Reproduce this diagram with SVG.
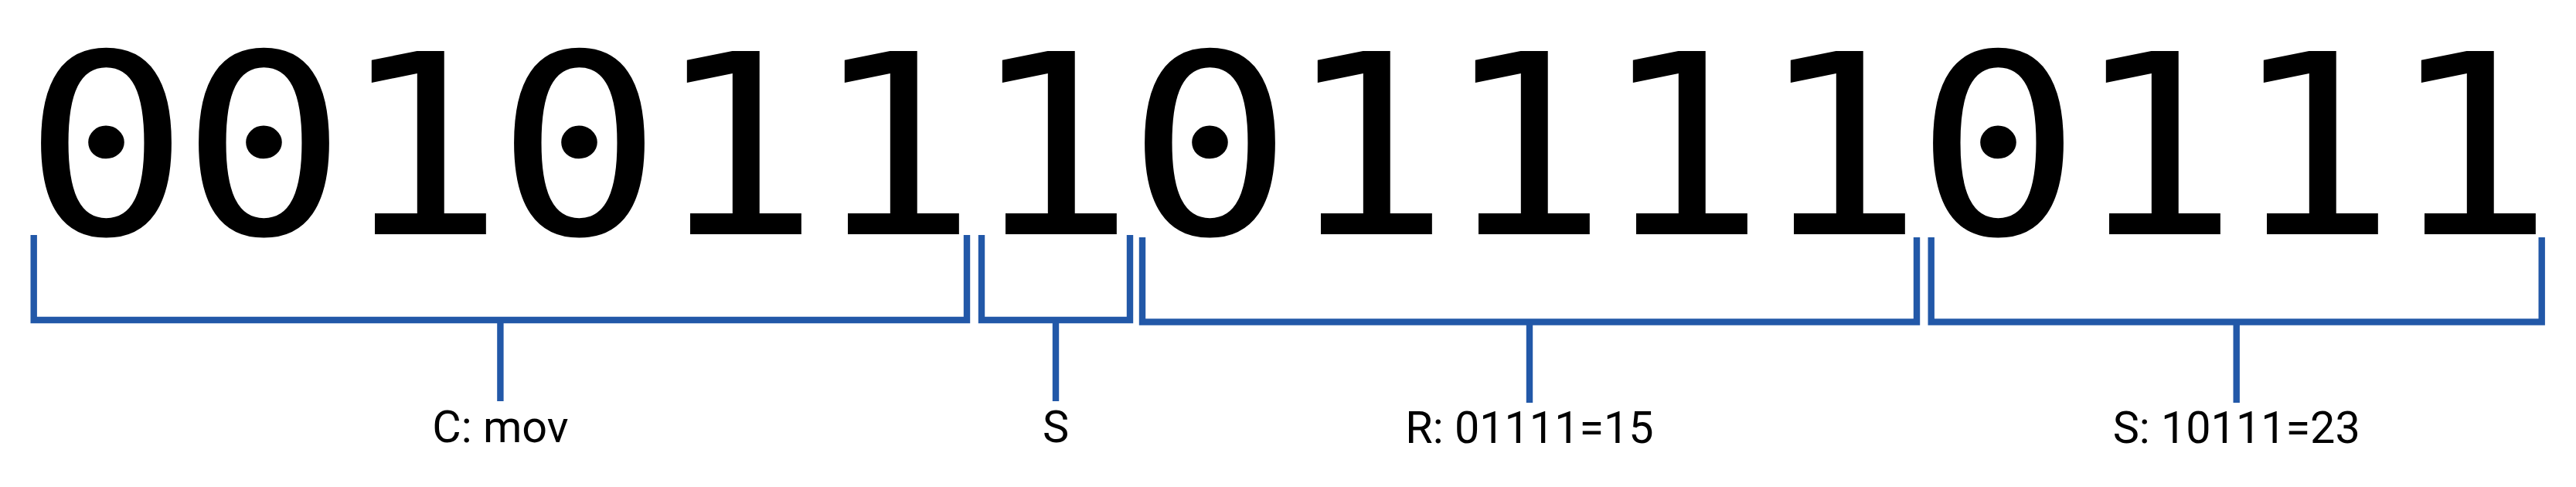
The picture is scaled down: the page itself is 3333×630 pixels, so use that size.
<svg xmlns="http://www.w3.org/2000/svg" width="3333" height="630" viewBox="0 0 3333 630">
  <style>
    .bits { font-family: "DejaVu Sans Mono", "Liberation Mono", monospace; font-size: 325px; fill: #000; text-anchor: middle; }
    .lbl { font-family: Roboto, "Liberation Sans", sans-serif; font-size: 57.5px; fill: #000; text-anchor: middle; }
    .br { fill: none; stroke: #2258A8; stroke-width: 8.4; stroke-linejoin: miter; stroke-linecap: butt; }
  </style>
  <rect width="3333" height="630" fill="#fff"/>
  <g id="bits" transform="scale(1.1 1)">
    <text class="bits" y="303" x="125 310.45 495.91 681.36 866.82 1052.27 1237.73 1423.18 1608.64 1794.09 1979.55 2165 2350.45 2535.91 2721.36 2906.82">0010111011110111</text>
  </g>
  <g id="connectors">
    <path class="br" d="M43.7 304 V414 H1251 V304 M647.4 414 V519"/>
    <path class="br" d="M1270 304 V414 H1462 V304 M1366 414 V519"/>
    <path class="br" d="M1478 307 V416.5 H2480 V307 M1979 416.5 V521"/>
    <path class="br" d="M2498.7 307 V416.5 H3288.7 V307 M2893.7 416.5 V521"/>
  </g>
  <g id="label-c"><text class="lbl" x="647.4" y="572">C: mov</text></g>
  <g id="label-s"><text class="lbl" x="1366" y="572">S</text></g>
  <g id="label-r"><text class="lbl" x="1979" y="573">R: 01111=15</text></g>
  <g id="label-s2"><text class="lbl" x="2893.7" y="573">S: 10111=23</text></g>
</svg>
